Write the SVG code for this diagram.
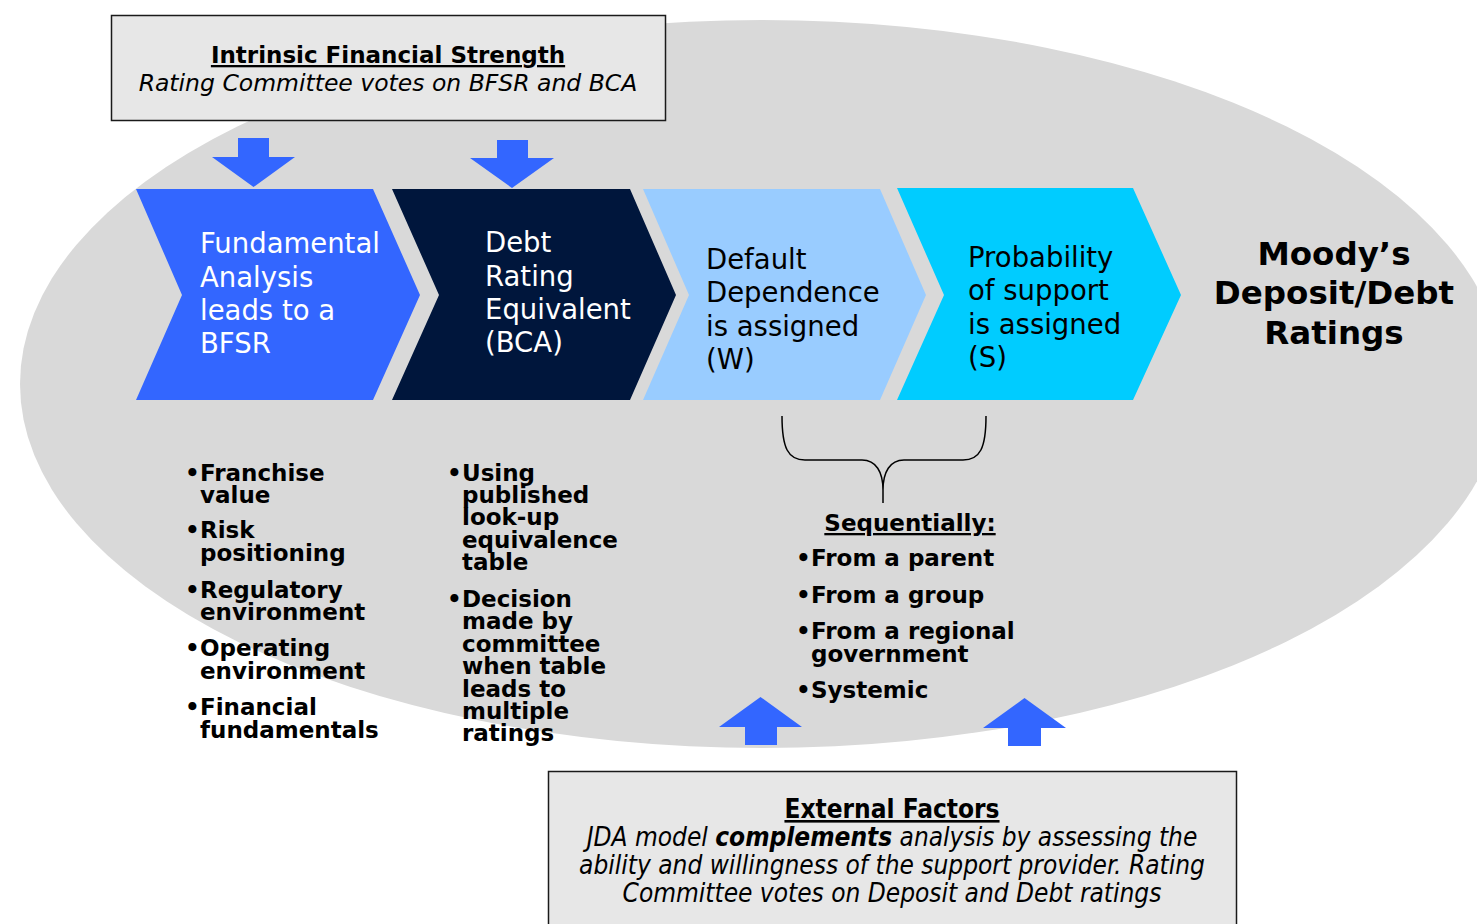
<svg xmlns="http://www.w3.org/2000/svg" width="1477" height="924" viewBox="0 0 1477 924">
  <style>
    .reg { font-family: "DejaVu Sans", Verdana, sans-serif; }
    .bold { font-family: "DejaVu Sans", Verdana, sans-serif; font-weight: bold; }
    .cond { font-family: "DejaVu Sans Condensed", "DejaVu Sans", sans-serif; font-stretch: condensed; }
    .chev { font-size: 27.5px; }
    .list { font-size: 23px; font-weight: bold; font-family: "DejaVu Sans", Verdana, sans-serif; fill: #000; }
    .box { fill: #E7E7E7; stroke: #1a1a1a; stroke-width: 1.5; }
    .arrow { fill: #3366FF; }
  </style>

  <!-- background oval -->
  <ellipse id="oval" cx="762" cy="384" rx="742" ry="364" fill="#D9D9D9"/>

  <!-- top header box -->
  <g id="intrinsic">
    <rect class="box" x="111.5" y="15.5" width="554" height="105"/>
    <text class="bold" x="388" y="63" font-size="23" text-anchor="middle" text-decoration="underline">Intrinsic Financial Strength</text>
    <text class="reg" x="388" y="91" font-size="23.5" font-style="italic" text-anchor="middle">Rating Committee votes on BFSR and BCA</text>
  </g>

  <!-- process chevrons -->
  <g id="step-bfsr">
    <polygon points="136,189 373,189 420,295 373,400 136,400 182,295" fill="#3366FF"/>
    <text class="reg chev" fill="#FFFFFF">
      <tspan x="200" y="253">Fundamental</tspan>
      <tspan x="200" y="287">Analysis</tspan>
      <tspan x="200" y="320">leads to a</tspan>
      <tspan x="200" y="353">BFSR</tspan>
    </text>
  </g>
  <g id="step-bca">
    <polygon points="392,189 630,189 676,295 630,400 392,400 439,295" fill="#00163C"/>
    <text class="reg chev" fill="#FFFFFF">
      <tspan x="485" y="252">Debt</tspan>
      <tspan x="485" y="286">Rating</tspan>
      <tspan x="485" y="319">Equivalent</tspan>
      <tspan x="485" y="352">(BCA)</tspan>
    </text>
  </g>
  <g id="step-w">
    <polygon points="643,189 880,189 926,295 880,400 643,400 689,295" fill="#99CCFF"/>
    <text class="reg chev" fill="#000000">
      <tspan x="706" y="269">Default</tspan>
      <tspan x="706" y="302">Dependence</tspan>
      <tspan x="706" y="336">is assigned</tspan>
      <tspan x="706" y="369">(W)</tspan>
    </text>
  </g>
  <g id="step-s">
    <polygon points="897,188 1133,188 1181,295 1133,400 897,400 944,295" fill="#00CCFF"/>
    <text class="reg chev" fill="#000000">
      <tspan x="968" y="267">Probability</tspan>
      <tspan x="968" y="300">of support</tspan>
      <tspan x="968" y="334">is assigned</tspan>
      <tspan x="968" y="367">(S)</tspan>
    </text>
  </g>

  <!-- outcome label -->
  <g id="ratings">
    <text class="bold" font-size="32.5" text-anchor="middle"><tspan x="1334" y="265">Moody’s</tspan><tspan x="1334" y="304">Deposit/Debt</tspan><tspan x="1334" y="344">Ratings</tspan></text>
  </g>

  <!-- BFSR factors -->
  <g id="bfsr-factors">
    <text class="list">
      <tspan x="185" y="481">•</tspan><tspan x="200" y="481">Franchise</tspan>
      <tspan x="200" y="503">value</tspan>
      <tspan x="185" y="538">•</tspan><tspan x="200" y="538">Risk</tspan>
      <tspan x="200" y="561">positioning</tspan>
      <tspan x="185" y="598">•</tspan><tspan x="200" y="598">Regulatory</tspan>
      <tspan x="200" y="620">environment</tspan>
      <tspan x="185" y="656">•</tspan><tspan x="200" y="656">Operating</tspan>
      <tspan x="200" y="679">environment</tspan>
      <tspan x="185" y="715">•</tspan><tspan x="200" y="715">Financial</tspan>
      <tspan x="200" y="738">fundamentals</tspan>
    </text>
  </g>

  <!-- BCA method -->
  <g id="bca-method">
    <text class="list">
      <tspan x="447" y="481">•</tspan><tspan x="462" y="481">Using</tspan>
      <tspan x="462" y="503">published</tspan>
      <tspan x="462" y="525">look-up</tspan>
      <tspan x="462" y="548">equivalence</tspan>
      <tspan x="462" y="570">table</tspan>
      <tspan x="447" y="607">•</tspan><tspan x="462" y="607">Decision</tspan>
      <tspan x="462" y="629">made by</tspan>
      <tspan x="462" y="652">committee</tspan>
      <tspan x="462" y="674">when table</tspan>
      <tspan x="462" y="697">leads to</tspan>
      <tspan x="462" y="719">multiple</tspan>
      <tspan x="462" y="741">ratings</tspan>
    </text>
  </g>

  <!-- support sources -->
  <g id="support-sources">
    <text class="list" x="910" y="531" text-anchor="middle" text-decoration="underline">Sequentially:</text>
    <text class="list">
      <tspan x="796" y="566">•</tspan><tspan x="811" y="566">From a parent</tspan>
      <tspan x="796" y="603">•</tspan><tspan x="811" y="603">From a group</tspan>
      <tspan x="796" y="639">•</tspan><tspan x="811" y="639">From a regional</tspan>
      <tspan x="811" y="662">government</tspan>
      <tspan x="796" y="698">•</tspan><tspan x="811" y="698">Systemic</tspan>
    </text>
  </g>

  <!-- bottom box -->
  <g id="external">
    <rect class="box" x="548.5" y="771.5" width="688" height="170"/>
    <text class="cond" font-size="26" font-weight="bold" x="892" y="818" text-anchor="middle" text-decoration="underline">External Factors</text>
    <text class="cond" font-size="26" font-style="italic" text-anchor="middle"><tspan x="892" y="846">JDA model <tspan font-weight="bold">complements</tspan> analysis by assessing the</tspan><tspan x="892" y="874">ability and willingness of the support provider. Rating</tspan><tspan x="892" y="902">Committee votes on Deposit and Debt ratings</tspan></text>
  </g>

  <!-- arrows and brace -->
  <g id="connectors">
    <polygon class="arrow" points="238,138 269,138 269,157 295,157 253.5,187 212,157 238,157"/>
    <polygon class="arrow" points="497,140 528,140 528,158 554,158 512,188 470,158 497,158"/>
    <polygon class="arrow" points="745,745 745,727 719,727 760.5,697 802,727 777,727 777,745"/>
    <polygon class="arrow" points="1008,746 1008,728 983,728 1024.5,698 1066,728 1041,728 1041,746"/>
    <path d="M782,416 C782,448 788,460 805,460 L862,460 C876,460 883,472 883,490 L883,503 M986,416 C986,448 980,460 963,460 L904,460 C890,460 883,472 883,490" fill="none" stroke="#000" stroke-width="1.5"/>
  </g>
</svg>
